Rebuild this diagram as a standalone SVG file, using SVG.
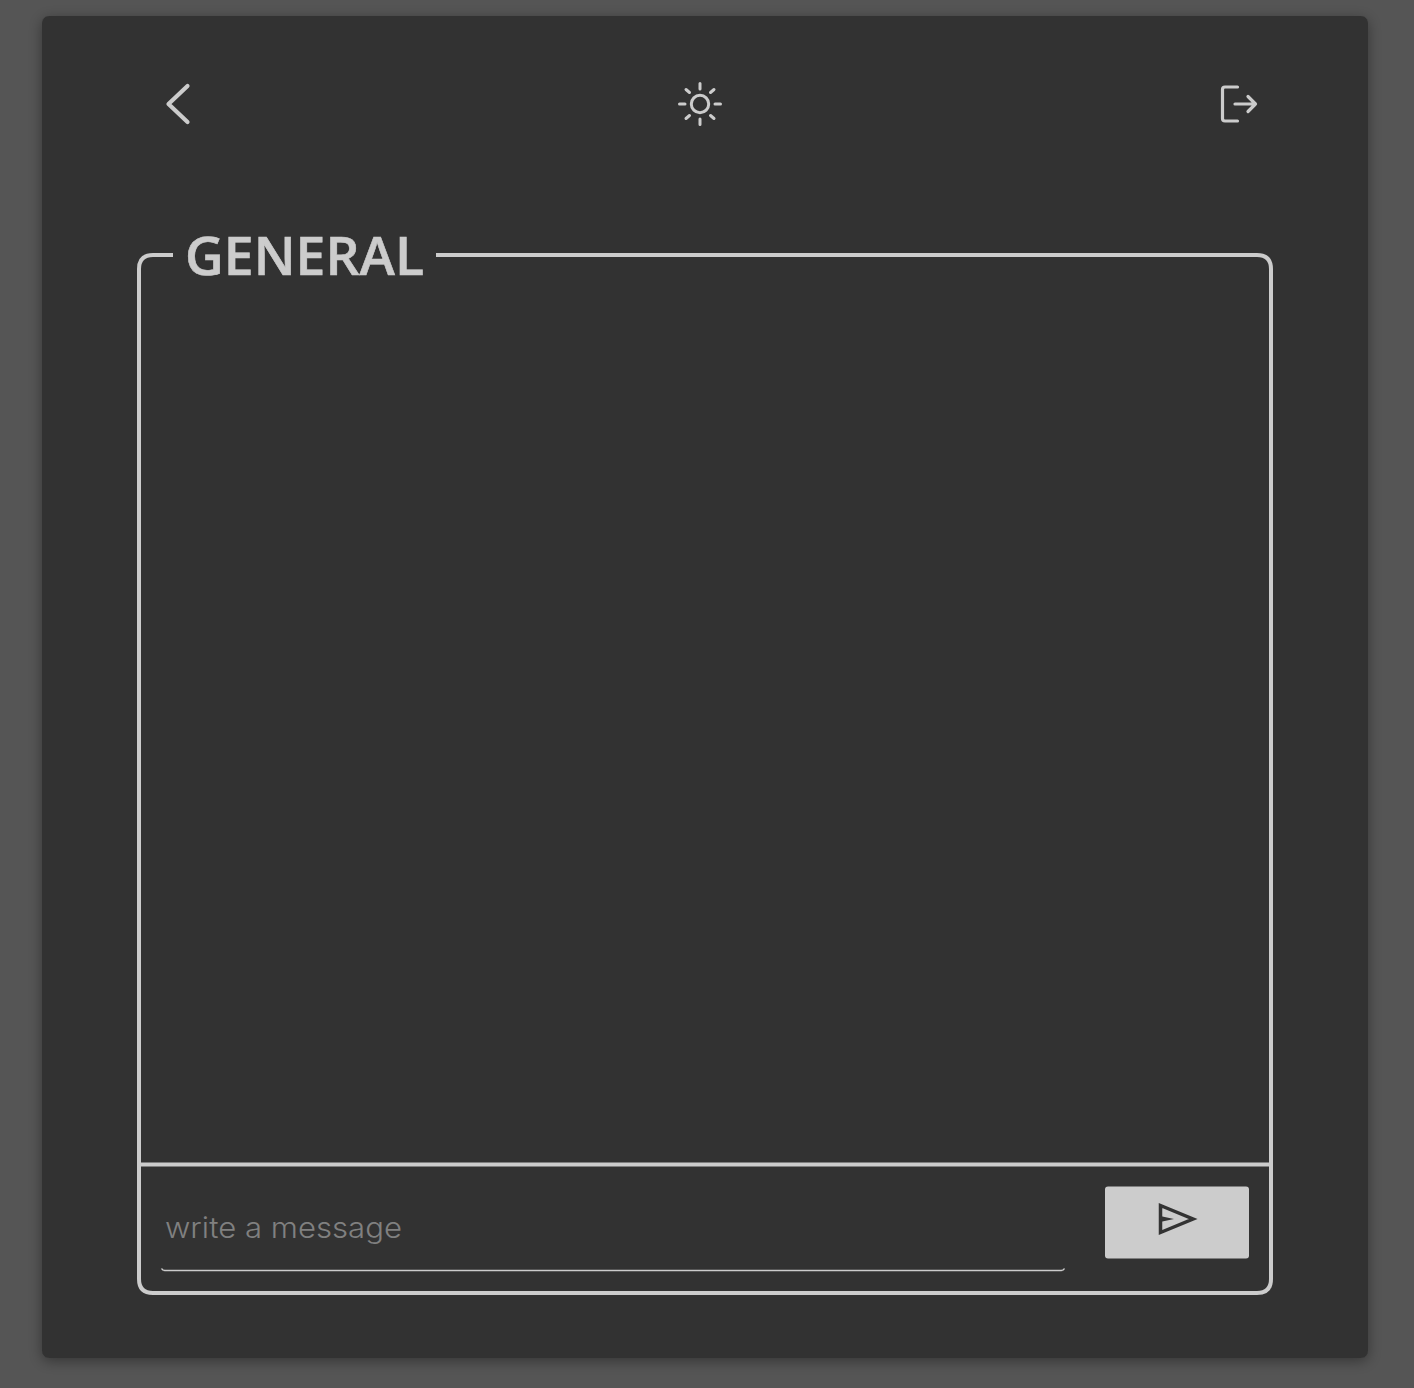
<svg xmlns="http://www.w3.org/2000/svg" width="1414" height="1388" viewBox="0 0 1414 1388">
<defs>
<style>
.ln{fill:none;stroke:#ccc;stroke-width:4}
.ic{fill:none;stroke:#ccc;stroke-linecap:round;stroke-linejoin:round}
.dk{fill:none;stroke:#333;stroke-width:3.500}
</style>
<filter id="sh" x="-5%" y="-5%" width="110%" height="110%"><feDropShadow dx="0" dy="3" stdDeviation="7" flood-color="#000" flood-opacity="0.38"/></filter>
</defs>
<rect width="1414" height="1388" fill="#555"/>
<rect id="panel" x="42" y="16" width="1326" height="1342" rx="7" fill="#333" filter="url(#sh)"/>
<g id="back"><path class="ic" style="stroke-width:4.200" d="M187.500 86L168.500 104L187.500 122"/></g>
<g id="theme" class="ic" style="stroke-width:3">
<circle cx="700" cy="104" r="8.700"/>
<path d="M700 83.500V89M700 119V124.500M679.500 104H685M715 104H720.500M686 89.500L689.500 92.500M710.500 115.500L714 118.500M714 89.500L710.500 92.500M689.500 115.500L686 118.500"/>
</g>
<g id="logout" class="ic" style="stroke-width:3.200">
<path d="M1237.500 87H1225Q1222.500 87 1222.500 89.500V118.500Q1222.500 121 1225 121H1237.500"/>
<path d="M1235 104H1255.500M1248 96.500L1255.500 104L1248 111.500"/>
</g>
<g id="chat">
<path class="ln" d="M173 255H153Q139 255 139 269V1279Q139 1293 153 1293H1257Q1271 1293 1271 1279V269Q1271 255 1257 255H436"/>
<path class="ln" d="M141 1164.500H1269"/>
<text x="185" y="275" font-family="Open Sans, Noto Sans, sans-serif" font-size="52" font-weight="600" stroke="#ccc" stroke-width="0.600" fill="#ccc" textLength="239" lengthAdjust="spacingAndGlyphs">GENERAL</text>
</g>
<g id="input">
<text x="165" y="1238" font-family="Inter, Lato, sans-serif" font-size="29" font-weight="300" fill="#808080" textLength="237" lengthAdjust="spacingAndGlyphs">write a message</text>
<path d="M161.500 1268.500Q162.500 1270.500 165 1270.500H1061Q1063.500 1270.500 1064.500 1268.500" fill="none" stroke="#ccc" stroke-width="1.600"/>
</g>
<g id="send">
<rect x="1105" y="1186.500" width="144" height="72" rx="3" fill="#ccc"/>
<path class="dk" d="M1160.500 1205.500L1193 1219L1160.500 1232.500Z"/>
<path d="M1160 1216L1174 1219L1160 1222Z" fill="#333"/>
</g>
</svg>
